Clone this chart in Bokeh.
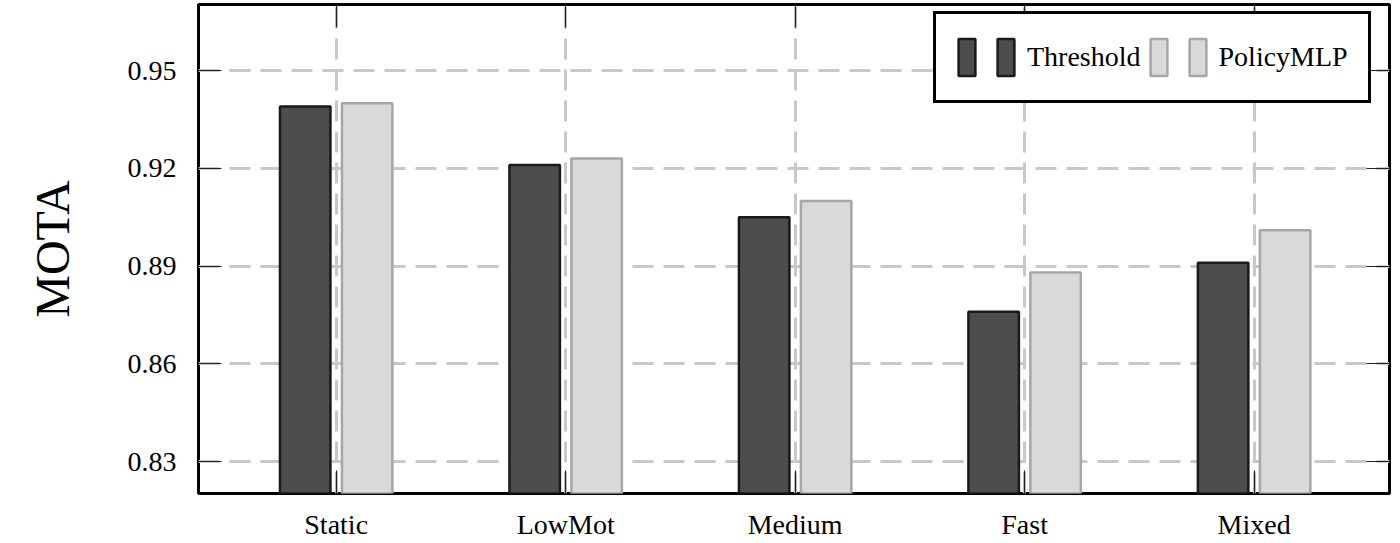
from bokeh.plotting import figure
from bokeh.models import (ColumnDataSource, FixedTicker, LinearAxis, Legend,
                          LegendItem, Range1d, CustomLabelingPolicy)
from bokeh.transform import dodge
from bokeh.embed import file_html
from bokeh.resources import INLINE

categories = ["Static", "LowMot", "Medium", "Fast", "Mixed"]
threshold = [0.939, 0.921, 0.905, 0.876, 0.891]
policy_mlp = [0.940, 0.923, 0.910, 0.888, 0.901]
y_ticks = [0.83, 0.86, 0.89, 0.92, 0.95]

SERIF = "Liberation Serif"

src = ColumnDataSource(dict(x=list(range(len(categories))),
                            thr=threshold, mlp=policy_mlp))

p = figure(frame_width=1191, frame_height=489,
           x_range=Range1d(-0.60, 4.59), y_range=Range1d(0.8202, 0.9703),
           output_backend="svg", toolbar_location=None,
           min_border_left=198, min_border_top=4, min_border_right=0,
           min_border_bottom=0)
p.background_fill_color = "white"
p.border_fill_color = "white"
p.outline_line_color = "black"
p.outline_line_width = 3

r_thr = p.vbar(x=dodge("x", -0.135, range=p.x_range), top="thr", bottom=0.8,
               width=0.22, source=src, fill_color="#4d4d4d",
               line_color="#1a1a1a", line_width=2.5)
r_mlp = p.vbar(x=dodge("x", 0.135, range=p.x_range), top="mlp", bottom=0.8,
               width=0.22, source=src, fill_color="#d9d9d9",
               line_color="#a6a6a6", line_width=2.5)

bottom_ax = p.xaxis[0]
left_ax = p.yaxis[0]

# ticks pointing inside on every side
xticker = FixedTicker(ticks=list(range(len(categories))))
yticker = FixedTicker(ticks=y_ticks)
bottom_ax.ticker = xticker
left_ax.ticker = yticker
bottom_ax.major_label_overrides = {i: c for i, c in enumerate(categories)}
left_ax.major_label_overrides = {t: "%.2f" % t for t in y_ticks}

no_labels = CustomLabelingPolicy(code="""
    const n = indices.size
    for (let i = 0; i < n; i++)
        indices.unset(i)
    return indices
""")
top_ax = LinearAxis(ticker=xticker, major_label_policy=no_labels)
right_ax = LinearAxis(ticker=yticker, major_label_policy=no_labels)
p.add_layout(top_ax, "above")
p.add_layout(right_ax, "right")

for ax in [bottom_ax, left_ax, top_ax, right_ax]:
    ax.axis_line_color = None
    ax.major_tick_in = 23
    ax.major_tick_out = 0
    ax.major_tick_line_color = "#222222"
    ax.major_tick_line_width = 1.2
    ax.minor_tick_line_color = None
    ax.major_label_text_font = SERIF
    ax.major_label_text_font_size = "28px"
    ax.major_label_text_color = "black"

for ax in [top_ax, right_ax]:
    ax.major_label_text_font_size = "1px"
    ax.major_label_standoff = 0

bottom_ax.major_label_standoff = 15
left_ax.major_label_standoff = 22
left_ax.axis_label = "MOTA"
left_ax.axis_label_text_font = SERIF
left_ax.axis_label_text_font_size = "48px"
left_ax.axis_label_text_font_style = "normal"
left_ax.axis_label_text_color = "black"
left_ax.axis_label_standoff = 46

for g in [p.xgrid[0], p.ygrid[0]]:
    g.grid_line_color = "#c8c8c8"
    g.grid_line_width = 3
    g.grid_line_dash = "21 10"

legend = Legend(items=[LegendItem(label="", renderers=[r_thr]),
                       LegendItem(label="Threshold", renderers=[r_thr]),
                       LegendItem(label="", renderers=[r_mlp]),
                       LegendItem(label="PolicyMLP", renderers=[r_mlp])],
                orientation="horizontal", location=(735, 390))
legend.label_text_font = SERIF
legend.label_text_font_size = "28px"
legend.label_text_color = "black"
legend.label_width = 0
legend.glyph_width = 21
legend.glyph_height = 46
legend.label_standoff = 11
legend.spacing = 7
legend.padding = 20
legend.margin = 0
legend.border_line_color = "black"
legend.border_line_alpha = 1.0
legend.border_line_width = 3
legend.background_fill_color = "white"
legend.background_fill_alpha = 1.0
p.add_layout(legend, "center")

open("out.html", "w").write(file_html(p, INLINE))
